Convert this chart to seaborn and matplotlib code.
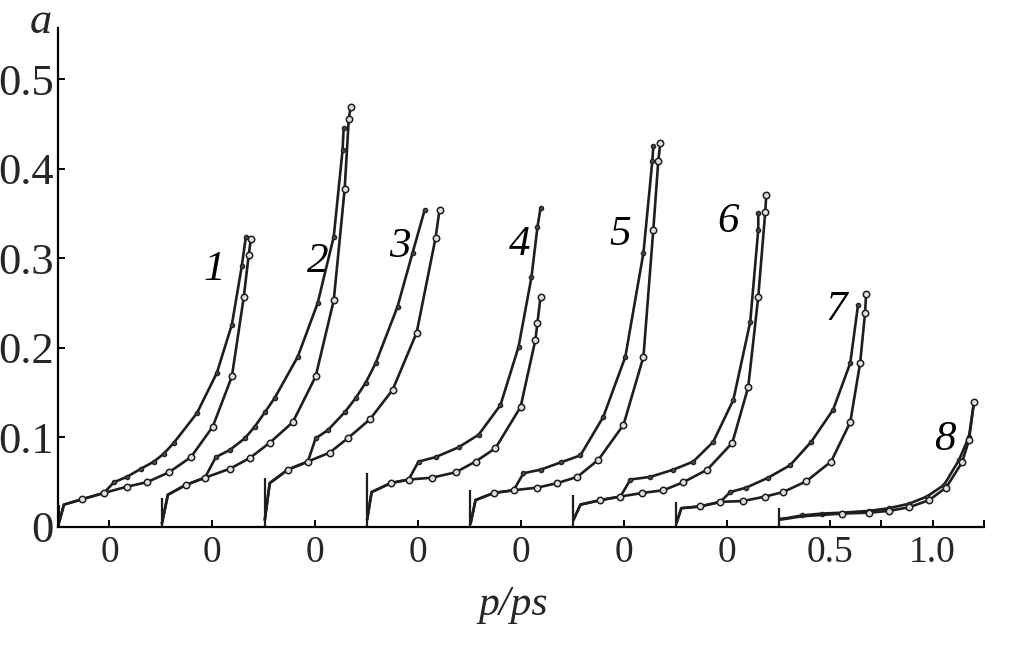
import matplotlib
matplotlib.use('Agg')
import matplotlib.pyplot as plt
import seaborn as sns
import pandas as pd

# adsorption isotherms, each curve shifted right by 0.5 on the p/ps axis
# upper branch (desorption, small marks) and lower branch (adsorption, open circles)
P1_UP = [0.005, 0.029, 0.117, 0.223, 0.272, 0.335, 0.403, 0.466, 0.515, 0.563, 0.675, 0.772, 0.845, 0.893, 0.913]
A1_UP = [0.005, 0.025, 0.031, 0.038, 0.050, 0.056, 0.065, 0.073, 0.082, 0.094, 0.127, 0.172, 0.226, 0.291, 0.324]
P1_LO = [0.005, 0.029, 0.117, 0.223, 0.335, 0.432, 0.539, 0.646, 0.752, 0.845, 0.903, 0.927, 0.937]
A1_LO = [0.005, 0.025, 0.031, 0.038, 0.045, 0.050, 0.061, 0.078, 0.112, 0.168, 0.257, 0.304, 0.321]

P2_UP = [0.005, 0.034, 0.121, 0.214, 0.267, 0.335, 0.408, 0.456, 0.505, 0.553, 0.665, 0.762, 0.840, 0.883, 0.888]
A2_UP = [0.004, 0.036, 0.047, 0.055, 0.078, 0.086, 0.099, 0.112, 0.128, 0.144, 0.190, 0.250, 0.324, 0.421, 0.445]
P2_LO = [0.005, 0.034, 0.121, 0.214, 0.335, 0.432, 0.529, 0.641, 0.752, 0.840, 0.893, 0.913, 0.922]
A2_LO = [0.004, 0.036, 0.047, 0.055, 0.065, 0.077, 0.094, 0.117, 0.168, 0.253, 0.377, 0.455, 0.469]

P3_UP = [0.005, 0.029, 0.117, 0.214, 0.252, 0.311, 0.393, 0.447, 0.495, 0.544, 0.650, 0.723, 0.782]
A3_UP = [0.008, 0.049, 0.064, 0.073, 0.099, 0.108, 0.128, 0.144, 0.161, 0.183, 0.246, 0.306, 0.354]
P3_LO = [0.005, 0.029, 0.117, 0.214, 0.320, 0.408, 0.515, 0.626, 0.743, 0.835, 0.854]
A3_LO = [0.008, 0.049, 0.064, 0.073, 0.083, 0.099, 0.120, 0.153, 0.217, 0.323, 0.354]

P4_UP = [0.002, 0.024, 0.117, 0.204, 0.252, 0.335, 0.447, 0.544, 0.650, 0.738, 0.801, 0.830, 0.845]
A4_UP = [0.008, 0.039, 0.049, 0.053, 0.073, 0.078, 0.089, 0.103, 0.136, 0.201, 0.279, 0.335, 0.356]
P4_LO = [0.002, 0.024, 0.117, 0.204, 0.316, 0.432, 0.529, 0.626, 0.748, 0.820, 0.830, 0.845]
A4_LO = [0.008, 0.039, 0.049, 0.053, 0.055, 0.061, 0.073, 0.088, 0.134, 0.209, 0.228, 0.257]

P5_UP = [0.005, 0.029, 0.117, 0.214, 0.262, 0.345, 0.442, 0.539, 0.650, 0.757, 0.845, 0.888, 0.893]
A5_UP = [0.004, 0.030, 0.038, 0.041, 0.060, 0.064, 0.072, 0.080, 0.123, 0.190, 0.306, 0.408, 0.425]
P5_LO = [0.005, 0.029, 0.117, 0.214, 0.330, 0.427, 0.524, 0.626, 0.748, 0.845, 0.893, 0.917, 0.927]
A5_LO = [0.004, 0.030, 0.038, 0.041, 0.044, 0.049, 0.056, 0.075, 0.114, 0.190, 0.332, 0.408, 0.429]

P6_UP = [0.005, 0.039, 0.136, 0.233, 0.282, 0.379, 0.490, 0.587, 0.684, 0.782, 0.864, 0.903, 0.903]
A6_UP = [0.008, 0.025, 0.030, 0.034, 0.053, 0.056, 0.064, 0.073, 0.095, 0.142, 0.229, 0.332, 0.351]
P6_LO = [0.005, 0.039, 0.136, 0.233, 0.340, 0.442, 0.539, 0.655, 0.777, 0.854, 0.903, 0.937, 0.942]
A6_LO = [0.008, 0.025, 0.030, 0.034, 0.038, 0.041, 0.050, 0.064, 0.094, 0.156, 0.257, 0.352, 0.371]

P7_UP = [0.005, 0.029, 0.121, 0.218, 0.267, 0.345, 0.451, 0.558, 0.660, 0.767, 0.850, 0.888]
A7_UP = [0.004, 0.021, 0.023, 0.028, 0.039, 0.044, 0.055, 0.069, 0.095, 0.131, 0.183, 0.248]
P7_LO = [0.005, 0.029, 0.121, 0.218, 0.330, 0.437, 0.524, 0.636, 0.757, 0.850, 0.898, 0.922, 0.927]
A7_LO = [0.004, 0.021, 0.023, 0.028, 0.029, 0.034, 0.039, 0.051, 0.073, 0.117, 0.183, 0.239, 0.260]

P8_UP = [0.005, 0.044, 0.117, 0.214, 0.311, 0.442, 0.539, 0.636, 0.723, 0.806, 0.879, 0.927, 0.951]
A8_UP = [0.009, 0.010, 0.013, 0.015, 0.016, 0.018, 0.021, 0.026, 0.034, 0.047, 0.075, 0.101, 0.139]
P8_LO = [0.005, 0.117, 0.311, 0.442, 0.539, 0.636, 0.733, 0.816, 0.893, 0.927, 0.951]
A8_LO = [0.008, 0.012, 0.015, 0.016, 0.018, 0.022, 0.030, 0.044, 0.072, 0.097, 0.139]

CURVE_IDS = ['1', '2', '3', '4', '5', '6', '7', '8']
SHIFT = 0.5
BAR_TOP = [0.025, 0.032, 0.055, 0.060, 0.041, 0.036, 0.028, 0.021]
LABEL_X = [0.758, 1.263, 1.662, 2.245, 2.731, 3.256, 3.780, 4.310]
LABEL_Y = [0.287, 0.296, 0.313, 0.315, 0.326, 0.341, 0.242, 0.097]

XTICKS = [0.25, 0.75, 1.25, 1.75, 2.25, 2.75, 3.25, 3.75, 4.0, 4.25, 4.5]
XTICK_LABELS = ['0', '0', '0', '0', '0', '0', '0', '0.5', '', '1.0', '']
YTICKS = [0, 0.1, 0.2, 0.3, 0.4, 0.5]
YTICK_LABELS = ['0', '0.1', '0.2', '0.3', '0.4', '0.5']

branches = [
    (P1_UP, A1_UP, P1_LO, A1_LO), (P2_UP, A2_UP, P2_LO, A2_LO),
    (P3_UP, A3_UP, P3_LO, A3_LO), (P4_UP, A4_UP, P4_LO, A4_LO),
    (P5_UP, A5_UP, P5_LO, A5_LO), (P6_UP, A6_UP, P6_LO, A6_LO),
    (P7_UP, A7_UP, P7_LO, A7_LO), (P8_UP, A8_UP, P8_LO, A8_LO),
]

rows = []
for k, (pu, au, pl, al) in enumerate(branches):
    for p, a in zip(pu, au):
        rows.append({'curve': CURVE_IDS[k], 'branch': 'up', 'x': p + SHIFT * k, 'a': a})
    for p, a in zip(pl, al):
        rows.append({'curve': CURVE_IDS[k], 'branch': 'lo', 'x': p + SHIFT * k, 'a': a})
df = pd.DataFrame(rows)

sns.set_style('ticks')
plt.rcParams['font.family'] = ['Liberation Serif', 'DejaVu Serif']

ink = '#1e1e1e'
fig = plt.figure(figsize=(10.14, 6.67), dpi=100)
ax = fig.add_axes([58 / 1014, 1 - 527 / 667, 926 / 1014, 499 / 667])

for k, cid in enumerate(CURVE_IDS):
    up = df[(df.curve == cid) & (df.branch == 'up')]
    lo = df[(df.curve == cid) & (df.branch == 'lo')]
    sns.lineplot(data=up, x='x', y='a', sort=False, estimator=None, ax=ax, color=ink,
                 linewidth=1.9, marker='o', markersize=3.2, markerfacecolor='#444444',
                 markeredgecolor=ink, markeredgewidth=0.8, markevery=list(range(2, len(up))))
    sns.lineplot(data=lo, x='x', y='a', sort=False, estimator=None, ax=ax, color=ink,
                 linewidth=1.9, marker='o', markersize=4.6, markerfacecolor='#e0e0e0',
                 markeredgecolor=ink, markeredgewidth=1.1, markevery=list(range(2, len(lo))))
    ax.vlines(SHIFT * k + 0.004, 0, BAR_TOP[k], color=ink, linewidth=1.6)
    ax.text(LABEL_X[k], LABEL_Y[k], cid, fontsize=31, fontstyle='italic',
            ha='center', va='center', color='black')

ax.set_xlim(0, 4.5)
ax.set_ylim(0, 0.557)
ax.set_xticks(XTICKS)
ax.set_xticklabels(XTICK_LABELS)
ax.set_yticks(YTICKS)
ax.set_yticklabels(YTICK_LABELS)
ax.tick_params(axis='both', direction='in', length=5, width=1.4, color='black')
ax.tick_params(axis='x', labelsize=27, pad=6)
ax.tick_params(axis='y', labelsize=32, pad=3)
ax.set_xlabel('')
ax.set_ylabel('')
sns.despine(ax=ax)
for s in ['left', 'bottom']:
    ax.spines[s].set_linewidth(1.6)
    ax.spines[s].set_color('black')

fig.text(41 / 1014, 1 - 22 / 667, 'a', fontsize=32, fontstyle='italic', ha='center', va='center')
fig.text(513 / 1014, 1 - 605 / 667, 'p/ps', fontsize=30, fontstyle='italic', ha='center', va='center')

fig.savefig('out.png', dpi=100)
